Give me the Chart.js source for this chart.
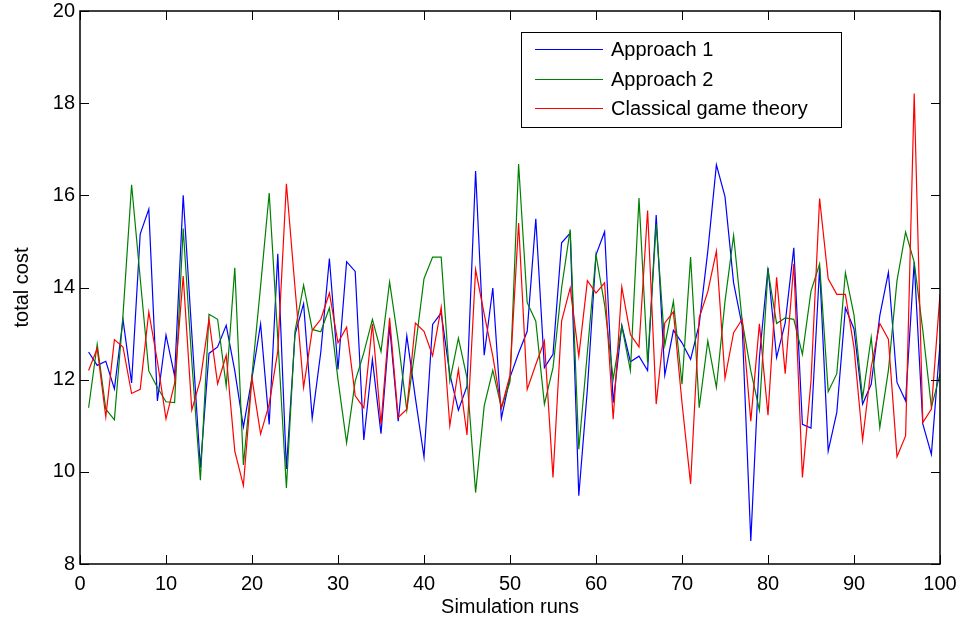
<!DOCTYPE html>
<html>
<head>
<meta charset="utf-8">
<script src="https://cdn.jsdelivr.net/npm/chart.js@4.4.1/dist/chart.umd.min.js"></script>
<style>
  html, body { margin: 0; padding: 0; background: #fff; }
  #wrap { width: 962px; height: 621px; }
</style>
</head>
<body>
<div id="wrap"><canvas id="c" width="962" height="621"></canvas></div>
<script>
// simulation run index (x categories)
const runs = Array.from({ length: 100 }, (_, i) => i + 1);

const approach1 = [
    12.6, 12.31, 12.4, 11.8, 13.3, 11.93, 15.16, 15.7, 11.54, 12.97,
    12.08, 16.0, 13.0, 10.09, 12.57, 12.71, 13.18, 12.19, 10.97, 12.04,
    13.21, 11.03, 14.73, 10.06, 12.98, 13.65, 11.16, 12.6, 14.63, 12.22,
    14.56, 14.35, 10.69, 12.44, 10.83, 13.16, 11.1, 12.95, 11.6, 10.32,
    13.2, 13.45, 12.12, 11.34, 11.86, 16.53, 12.53, 13.99, 11.16, 12.05,
    12.58, 13.05, 15.49, 12.26, 12.55, 14.97, 15.18, 9.48, 11.8, 14.71,
    15.21, 11.5, 13.18, 12.39, 12.51, 12.2, 15.57, 12.1, 13.07, 12.8,
    12.44, 13.2, 14.79, 16.66, 15.97, 14.1, 13.16, 8.5, 12.48, 14.43,
    12.48, 13.23, 14.86, 11.03, 10.95, 14.43, 10.45, 11.29, 13.56, 13.1,
    11.47, 11.9, 13.39, 14.33, 11.94, 11.54, 14.55, 11.04, 10.38, 12.78
];

const approach2 = [
    11.39, 12.77, 11.36, 11.13, 13.4, 16.23, 14.2, 12.19, 11.83, 11.52,
    11.5, 15.28, 12.4, 9.82, 13.42, 13.31, 11.86, 14.43, 10.15, 12.1,
    14.03, 16.05, 12.9, 9.65, 13.05, 14.05, 13.09, 13.04, 13.56, 12.0,
    10.63, 11.97, 12.58, 13.31, 12.61, 14.12, 12.84, 11.34, 12.7, 14.19,
    14.66, 14.66, 11.97, 12.9, 12.04, 9.55, 11.43, 12.2, 11.39, 11.95,
    16.68, 13.67, 13.27, 11.47, 12.26, 13.99, 15.26, 10.49, 12.6, 14.71,
    13.63, 12.01, 13.16, 12.2, 15.94, 12.37, 15.37, 12.75, 13.7, 11.9,
    14.66, 11.39, 12.84, 11.83, 13.7, 15.13, 13.27, 12.19, 11.34, 14.37,
    13.22, 13.34, 13.31, 12.55, 13.92, 14.51, 11.74, 12.13, 14.32, 13.4,
    11.6, 12.92, 10.96, 12.2, 14.15, 15.2, 14.55, 13.07, 11.4, 12.12
];

const classical = [
    12.2, 12.68, 11.19, 12.87, 12.71, 11.7, 11.79, 13.47, 12.4, 11.15,
    11.92, 14.25, 11.34, 12.0, 13.31, 11.91, 12.53, 10.45, 9.7, 12.03,
    10.82, 11.47, 12.62, 16.25, 14.0, 11.83, 13.07, 13.31, 13.88, 12.8,
    13.14, 11.65, 11.39, 13.21, 11.03, 13.34, 11.18, 11.36, 13.23, 13.05,
    12.52, 13.57, 11.0, 12.22, 10.8, 14.39, 13.42, 12.51, 11.39, 12.1,
    15.4, 11.79, 12.33, 12.84, 9.88, 13.27, 13.99, 12.51, 14.15, 13.88,
    14.1, 11.14, 14.01, 12.98, 12.71, 15.67, 11.47, 13.23, 13.47, 11.5,
    9.74, 13.34, 13.91, 14.79, 12.03, 13.02, 13.31, 11.1, 13.21, 11.23,
    14.22, 12.13, 14.51, 9.88, 11.97, 15.93, 14.19, 13.85, 13.85, 12.7,
    10.69, 12.27, 13.22, 12.88, 10.33, 10.78, 18.21, 11.07, 11.36, 13.86
];

const seriesNames = ['Approach 1', 'Approach 2', 'Classical game theory'];
const xTicks = [0, 10, 20, 30, 40, 50, 60, 70, 80, 90, 100];
const yTicks = [8, 10, 12, 14, 16, 18, 20];

const FONT = 'Arial, "Liberation Sans", sans-serif';
const toPoints = vals => vals.map((v, i) => ({ x: runs[i], y: v }));

// MATLAB-style box with inward ticks on all four sides
const boxPlugin = {
    id: 'box',
    afterDatasetsDraw(chart) {
        const { ctx, chartArea: a, scales } = chart;
        const len = 9;
        ctx.save();
        ctx.strokeStyle = '#000';
        ctx.lineWidth = 1;
        ctx.beginPath();
        xTicks.forEach(t => {
            const px = Math.round(scales.x.getPixelForValue(t)) + 0.5;
            ctx.moveTo(px, a.bottom); ctx.lineTo(px, a.bottom - len);
            ctx.moveTo(px, a.top); ctx.lineTo(px, a.top + len);
        });
        yTicks.forEach(t => {
            const py = Math.round(scales.y.getPixelForValue(t)) + 0.5;
            ctx.moveTo(a.left, py); ctx.lineTo(a.left + len, py);
            ctx.moveTo(a.right, py); ctx.lineTo(a.right - len, py);
        });
        ctx.stroke();
        ctx.lineWidth = 1.5;
        ctx.strokeRect(a.left, a.top, a.right - a.left, a.bottom - a.top);
        ctx.restore();
    }
};

// legend box in the upper right, drawn from the datasets
const legendPlugin = {
    id: 'boxLegend',
    afterDraw(chart) {
        const { ctx } = chart;
        const x0 = 521.5, y0 = 32.5, w = 320, h = 95;
        const rows = [49, 79, 108];
        ctx.save();
        ctx.fillStyle = '#fff';
        ctx.fillRect(x0, y0, w, h);
        ctx.strokeStyle = '#000';
        ctx.lineWidth = 1;
        ctx.strokeRect(x0, y0, w, h);
        ctx.font = '20px ' + FONT;
        ctx.textBaseline = 'middle';
        chart.data.datasets.forEach((ds, i) => {
            const y = rows[i] + 0.5;
            ctx.strokeStyle = ds.borderColor;
            ctx.beginPath();
            ctx.moveTo(535, y); ctx.lineTo(603, y);
            ctx.stroke();
            ctx.fillStyle = '#000';
            ctx.fillText(ds.label, 611, y + 1);
        });
        ctx.restore();
    }
};

const noPad = s => { s.paddingTop = 0; s.paddingBottom = 0; s.paddingLeft = 0; s.paddingRight = 0; };

new Chart(document.getElementById('c'), {
    type: 'line',
    data: {
        datasets: [
            { label: seriesNames[0], data: toPoints(approach1), borderColor: '#0000ff', order: 3 },
            { label: seriesNames[1], data: toPoints(approach2), borderColor: '#008000', order: 2 },
            { label: seriesNames[2], data: toPoints(classical), borderColor: '#ff0000', order: 1 }
        ]
    },
    options: {
        responsive: false,
        animation: false,
        layout: { padding: { top: 11, right: 22, left: 0, bottom: 0 } },
        elements: {
            line: { borderWidth: 1.2, tension: 0 },
            point: { radius: 0 }
        },
        plugins: {
            legend: { display: false },
            tooltip: { enabled: false }
        },
        scales: {
            x: {
                type: 'linear',
                min: 0, max: 100,
                afterFit: s => { s.height = 57; noPad(s); },
                afterBuildTicks: s => { s.ticks = xTicks.map(v => ({ value: v })); },
                grid: { display: false, drawTicks: false },
                border: { display: false },
                ticks: { color: '#000', padding: 8, maxRotation: 0, font: { family: FONT, size: 20 } },
                title: { display: true, text: 'Simulation runs', color: '#000', padding: { top: 0, bottom: 2 }, font: { family: FONT, size: 20 } }
            },
            y: {
                min: 8, max: 20,
                afterFit: s => { s.width = 80; noPad(s); },
                afterBuildTicks: s => { s.ticks = yTicks.map(v => ({ value: v })); },
                grid: { display: false, drawTicks: false },
                border: { display: false },
                ticks: { color: '#000', padding: 5, font: { family: FONT, size: 20 } },
                title: { display: true, text: 'total cost', color: '#000', padding: { top: 10, bottom: 0 }, font: { family: FONT, size: 20 } }
            }
        }
    },
    plugins: [boxPlugin, legendPlugin]
});
</script>
</body>
</html>
